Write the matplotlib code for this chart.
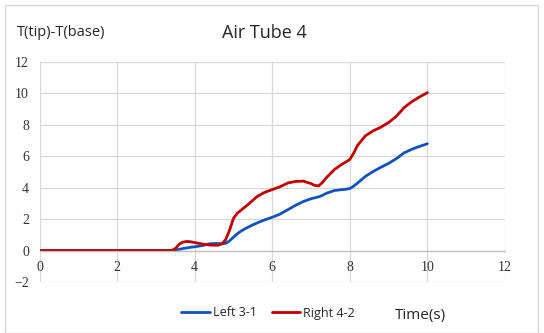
import matplotlib
matplotlib.use("Agg")
import matplotlib.pyplot as plt
from matplotlib.patches import Rectangle

# time axis (s) and the two temperature-difference traces
time_s = [0.0, 0.4, 0.8, 1.2, 1.6, 2.0, 2.4, 2.8, 3.2, 3.4,
          3.5, 3.6, 3.7, 3.8, 3.9, 4.0, 4.2, 4.4, 4.6, 4.7,
          4.8, 4.9, 5.0, 5.1, 5.2, 5.4, 5.6, 5.8, 6.0, 6.2,
          6.4, 6.6, 6.8, 7.0, 7.1, 7.2, 7.3, 7.4, 7.6, 7.8,
          7.9, 8.0, 8.1, 8.2, 8.4, 8.6, 8.8, 9.0, 9.2, 9.4,
          9.6, 9.8, 10.0]
left_3_1 = [0, 0, 0, 0, 0, 0, 0, 0, 0, 0,
            0.03, 0.08, 0.13, 0.17, 0.21, 0.24, 0.32, 0.44, 0.45, 0.44,
            0.46, 0.62, 0.85, 1.07, 1.25, 1.52, 1.75, 1.95, 2.12, 2.32,
            2.60, 2.88, 3.12, 3.30, 3.36, 3.42, 3.52, 3.65, 3.82, 3.88,
            3.90, 3.95, 4.10, 4.30, 4.72, 5.03, 5.30, 5.55, 5.85, 6.22,
            6.45, 6.63, 6.80]
right_4_2 = [0, 0, 0, 0, 0, 0, 0, 0, 0, 0,
             0.12, 0.40, 0.54, 0.58, 0.56, 0.51, 0.42, 0.35, 0.34, 0.42,
             0.70, 1.30, 2.05, 2.38, 2.58, 2.98, 3.42, 3.70, 3.88, 4.06,
             4.30, 4.40, 4.42, 4.26, 4.14, 4.12, 4.35, 4.65, 5.15, 5.50,
             5.64, 5.80, 6.20, 6.70, 7.30, 7.62, 7.85, 8.15, 8.55, 9.10,
             9.48, 9.78, 10.05]

x_ticks = [0, 2, 4, 6, 8, 10, 12]
y_ticks = [-2, 0, 2, 4, 6, 8, 10, 12]

W, H = 544, 333
fig = plt.figure(figsize=(W / 100, H / 100), dpi=100)
ax = fig.add_axes([39.5 / W, 1 - 282 / H, (505 - 39.5) / W, (282 - 62) / H])

grid_c = "#D9D9D9"
ax.plot(time_s, left_3_1, color="#0F52BA", lw=2.0, label="Left 3-1",
        solid_joinstyle="round", solid_capstyle="round")
ax.plot(time_s, right_4_2, color="#C00000", lw=2.0, label="Right 4-2",
        solid_joinstyle="round", solid_capstyle="round")

ax.set_xlim(0, 12)
ax.set_ylim(-2, 12)
ax.set_xticks(x_ticks)
ax.set_yticks(y_ticks)
ax.grid(True, color=grid_c, lw=0.9)
ax.set_axisbelow(True)
for s in ["top", "right", "left"]:
    ax.spines[s].set_visible(False)
ax.spines["bottom"].set_position(("data", 0))
ax.spines["bottom"].set_color("#BFBFBF")
ax.spines["bottom"].set_linewidth(0.9)

ax.tick_params(axis="both", length=0, colors="#333333")
ax.tick_params(axis="x", pad=7.5)
ax.tick_params(axis="y", pad=7.5)
for lab in ax.get_xticklabels() + ax.get_yticklabels():
    lab.set_fontfamily("Liberation Serif")
    lab.set_fontsize(10)

fig.text(264.5 / W, 1 - 33 / H, "Air Tube 4", ha="center", va="center",
         fontsize=13, family="Open Sans", color="#262626")
fig.text(17 / W, 1 - 33 / H, "T(tip)-T(base)", ha="left", va="center",
         fontsize=10.5, family="Open Sans", color="#262626")
fig.text(395 / W, 1 - 315 / H, "Time(s)", ha="left", va="center",
         fontsize=11, family="Open Sans", color="#262626")

leg = fig.legend(loc="center", bbox_to_anchor=(268 / W, 1 - 313 / H), ncol=2,
                 frameon=False, prop=dict(family="Open Sans", size=9),
                 handlelength=2.3, handletextpad=0.25, columnspacing=1.2)
for t in leg.get_texts():
    t.set_color("#262626")

# light chart-area border
fig.patches.append(Rectangle((5 / W, 0), (538 - 5) / W, 1 - 5 / H,
                             transform=fig.transFigure, fill=False,
                             edgecolor=grid_c, lw=1))

fig.savefig("out.png", dpi=100)
